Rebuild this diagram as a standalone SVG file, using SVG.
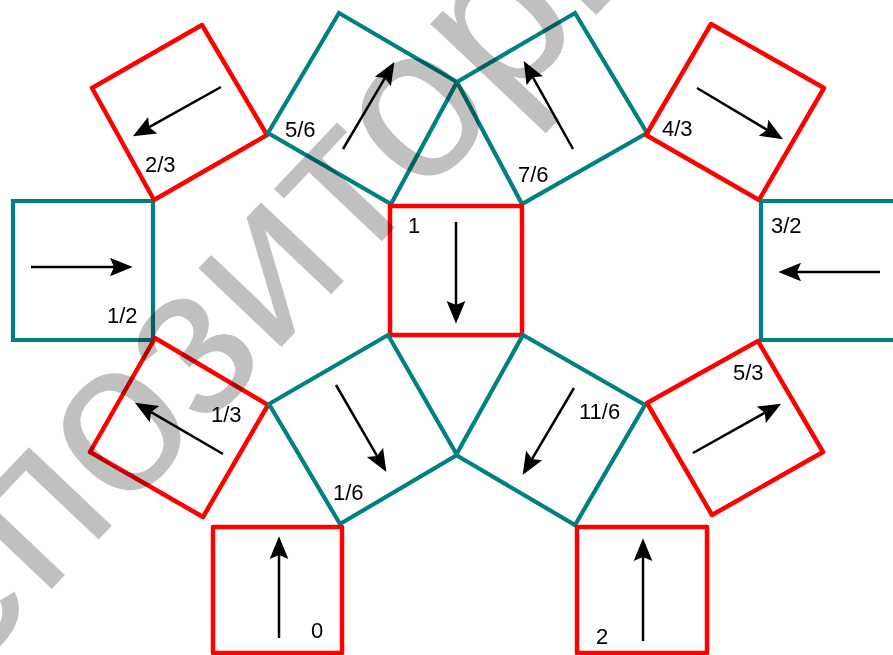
<svg xmlns="http://www.w3.org/2000/svg" width="893" height="655" viewBox="0 0 893 655">
<style>
.red{fill:none;stroke:#ff0000;stroke-width:4.5;stroke-linejoin:round}
.teal{fill:none;stroke:#008080;stroke-width:4.2;stroke-linejoin:miter}
.arr{fill:none;stroke:#000;stroke-width:2.5;marker-end:url(#ah)}
.lbl{font-family:"Liberation Sans",Arial,sans-serif;font-size:22px;fill:#000}
.wm{font-family:"Liberation Sans",Arial,sans-serif;font-size:216px;fill:#c0c0c0;mix-blend-mode:multiply}
</style>
<defs>
<marker id="ah" markerUnits="userSpaceOnUse" orient="auto" refX="0" refY="0" markerWidth="40" markerHeight="40" viewBox="-10 -10 30 20" overflow="visible">
<path d="M-3,-7 L14,0 L-3,7 L0,0 Z" fill="#000"/>
</marker>
</defs>
<rect width="893" height="655" fill="#fff"/>
<g id="sq-1-2"><polygon class="teal" points="13,201 153,201 153,340 13,340"/><path class="arr" d="M31,267 L114,267"/><text class="lbl" x="107" y="323">1/2</text></g>
<g id="sq-2-3"><polygon class="red" points="92,88 202,25 267,135 154,200"/><path class="arr" d="M221,87 L149.2,127.2"/><text class="lbl" x="145" y="172">2/3</text></g>
<g id="sq-5-6"><polygon class="teal" points="268,133 339,13 457,82 391,204"/><path class="arr" d="M343,149 L384.9,78.1"/><text class="lbl" x="285" y="137">5/6</text></g>
<g id="sq-7-6"><polygon class="teal" points="457,82 575,13 647,133 522,204"/><path class="arr" d="M573,149 L532.8,77.2"/><text class="lbl" x="518" y="182">7/6</text></g>
<g id="sq-4-3"><polygon class="red" points="711,24 824,88 759,200 646,135"/><path class="arr" d="M697,88 L767,129.8"/><text class="lbl" x="662" y="136">4/3</text></g>
<g id="sq-3-2"><polygon class="teal" points="761,201 900,201 900,340 761,340"/><path class="arr" d="M880,272 L797,272"/><text class="lbl" x="771" y="233">3/2</text></g>
<g id="sq-1"><polygon class="red" points="390,206 522,206 522,335 390,335"/><path class="arr" d="M456,222 L456,305"/><text class="lbl" x="408" y="233">1</text></g>
<g id="sq-1-3"><polygon class="red" points="155,338 268,405 203,517 90,452"/><path class="arr" d="M223,454 L151.1,412.1"/><text class="lbl" x="211" y="422">1/3</text></g>
<g id="sq-1-6"><polygon class="teal" points="269,404 388,335 457,455 340,524"/><path class="arr" d="M336,385 L377,455.9"/><text class="lbl" x="333" y="500">1/6</text></g>
<g id="sq-11-6"><polygon class="teal" points="523,335 645,405 575,525 456,455"/><path class="arr" d="M574,388 L532.1,458.9"/><text class="lbl" x="579" y="419">11/6</text></g>
<g id="sq-5-3"><polygon class="red" points="647,403 758,341 823,452 712,515"/><path class="arr" d="M693,453 L764.8,412.8"/><text class="lbl" x="733" y="380">5/3</text></g>
<g id="sq-0"><polygon class="red" points="213,527 342,527 342,653 213,653"/><path class="arr" d="M279,638 L279,555"/><text class="lbl" x="311" y="638">0</text></g>
<g id="sq-2"><polygon class="red" points="577,527 707,527 707,653 577,653"/><path class="arr" d="M643,641 L643,557"/><text class="lbl" x="596" y="644">2</text></g>
<g id="connectors"/>
<text class="wm" x="-124" y="774" transform="rotate(-46.5 -124 774)">репозиторий</text>
</svg>
